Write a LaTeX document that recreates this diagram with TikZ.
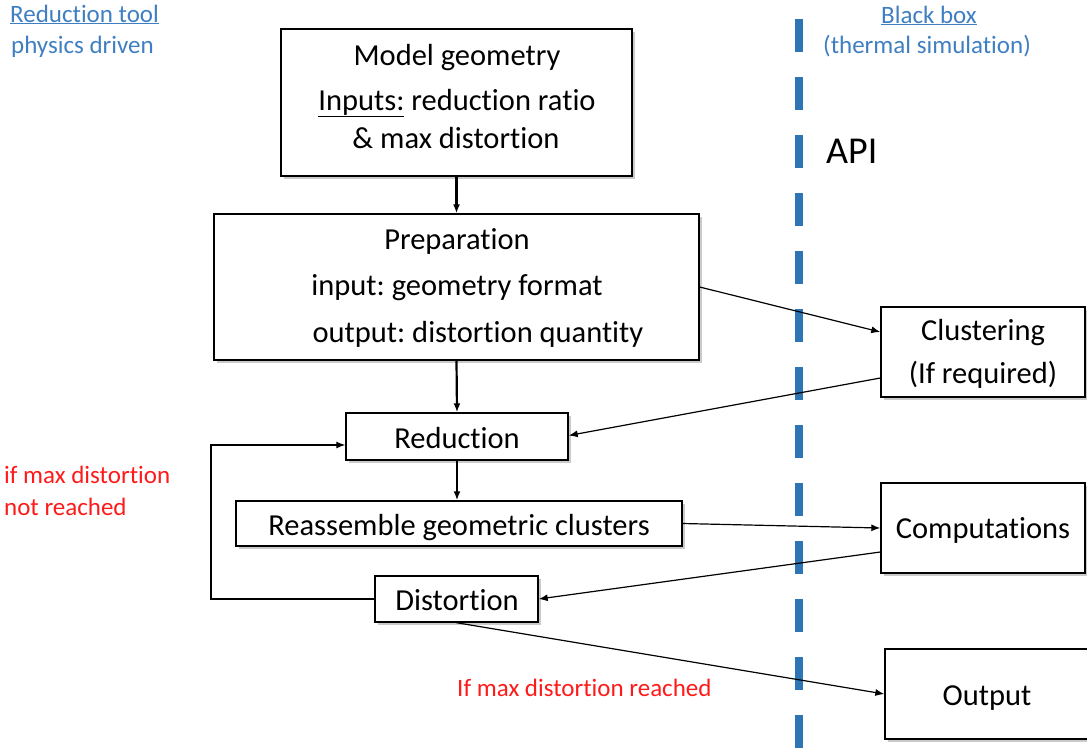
\documentclass[tikz,border=0pt]{standalone}
\usepackage{fontspec}
\setmainfont{Carlito}[Ligatures=NoCommon]
\usetikzlibrary{arrows.meta,shadows}
\definecolor{apiblue}{HTML}{2E75B6}
\definecolor{txtblue}{HTML}{3F7FC1}
\definecolor{txtred}{HTML}{FF1A1A}
\frenchspacing
\begin{document}
\begin{tikzpicture}[x=1pt,y=-1pt,
  box/.style={draw, line width=1.4pt, fill=white, inner sep=0pt,
    drop shadow={shadow xshift=2.5pt, shadow yshift=-2.5pt, opacity=0.35, fill=black!60}},
  txt/.style={inner sep=0pt, anchor=base, font=\fontsize{30.5}{36}\selectfont},
  bluetxt/.style={inner sep=0pt, anchor=base west, text=txtblue, font=\fontsize{25}{30}\selectfont},
  redtxt/.style={inner sep=0pt, anchor=base west, text=txtred, font=\fontsize{25}{30}\selectfont},
  arr/.style={-{Latex[length=9pt,width=7pt]}, line width=1.2pt},
  varr/.style={-{Latex[length=9pt,width=7pt]}, line width=2.2pt}]
\useasboundingbox (0,0) rectangle (1087,748);

% divider
\coordinate (dtop) at (799,19);
\coordinate (dbot) at (799,760);
\draw[apiblue, line width=8pt, dash pattern=on 33pt off 25pt] (dtop) -- (dbot);

% boxes
\node[box, minimum width=351pt, minimum height=147pt] (model) at (456.5,102.5) {};
\node[box, minimum width=485pt, minimum height=146pt] (prep) at (456.5,287) {};
\node[box, minimum width=222pt, minimum height=47pt] (red) at (457,436.5) {};
\node[box, minimum width=446pt, minimum height=45pt] (reas) at (459,523.5) {};
\node[box, minimum width=163pt, minimum height=46pt] (dist) at (456.5,599) {};
\node[box, minimum width=204pt, minimum height=90pt] (clus) at (983,352) {};
\node[box, minimum width=204pt, minimum height=90pt] (comp) at (983,528) {};
\node[box, minimum width=210pt, minimum height=90pt] (out) at (990,694) {};

% box texts
\node[txt] (t1) at (457,65) {Model geometry};
\node[txt] (t2) at (457,110) {\underline{Inputs:} reduction ratio};
\node[txt] (t3) at (456,148) {\& max distortion};
\node[txt] (t4) at (457,249) {Preparation};
\node[txt] (t5) at (457,295) {input: geometry format};
\node[txt] (t6) at (478,342) {output: distortion quantity};
\node[txt] (t7) at (457,448) {Reduction};
\node[txt] (t8) at (459,535) {Reassemble geometric clusters};
\node[txt] (t9) at (457,610) {Distortion};
\node[txt] (t10) at (983,340) {Clustering};
\node[txt] (t11) at (983,383) {(If required)};
\node[txt] (t12) at (983,538) {Computations};
\node[txt] (t13) at (987,705) {Output};

% headings
\node[bluetxt] (h1) at (10,22) {\underline{Reduction tool}};
\node[bluetxt] (h2) at (11,53) {physics driven};
\node[bluetxt] (h3) at (881,23) {\underline{Black box}};
\node[bluetxt] (h4) at (823,53) {(thermal simulation)};
\node[inner sep=0pt, anchor=base west, font=\fontsize{38}{44}\selectfont] (api) at (826,163) {API};

% red labels
\node[redtxt] (r1) at (4,483) {if max distortion};
\node[redtxt] (r2) at (4,515) {not reached};
\node[redtxt] (r3) at (457,696) {If max distortion reached};

% connectors
\draw[varr] (model.south) -- (prep.north);
\draw[varr] (prep.south) -- (red.north);
\draw[varr] (red.south) -- (reas.north -| red.south);
\draw[arr] (prep.east) -- ([yshift=20pt]clus.west);
\draw[arr] ([yshift=-26pt]clus.west) -- ([yshift=1pt]red.east);
\draw[arr] (reas.east) -- (comp.west);
\draw[arr] ([yshift=-24pt]comp.west) -- (dist.east);
\draw[arr] (dist.south) -- (out.west);
\coordinate (loopx) at (211,0);
\draw[arr] (dist.west) -- (dist.west -| loopx) |- ([yshift=-8.5pt]red.west);
\end{tikzpicture}
\end{document}
